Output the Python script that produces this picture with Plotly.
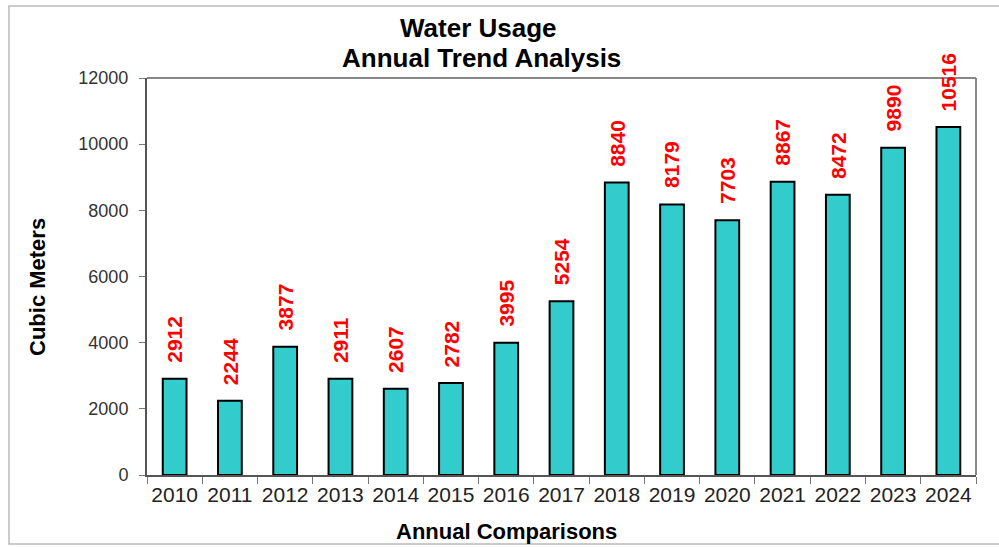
import plotly.graph_objects as go

years = ["2010", "2011", "2012", "2013", "2014", "2015", "2016", "2017",
         "2018", "2019", "2020", "2021", "2022", "2023", "2024"]
usage = [2912, 2244, 3877, 2911, 2607, 2782, 3995, 5254,
         8840, 8179, 7703, 8867, 8472, 9890, 10516]
y_ticks = [0, 2000, 4000, 6000, 8000, 10000, 12000]

W, H = 999, 547
L, R, T, B = 147, 23, 78, 72
pw, ph = W - L - R, H - T - B

def px(p):  # pixel x -> paper
    return (p - L) / pw

def py(p):  # pixel y -> paper
    return (H - B - p) / ph

FONT = "Liberation Sans, Arial, sans-serif"

fig = go.Figure(go.Bar(
    x=years, y=usage, width=0.43,
    marker=dict(color="#33CCCC", line=dict(color="#000000", width=2)),
))

annotations = [
    dict(x=i, y=v, xref="x", yref="y", text=f"<b>{v}</b>", textangle=-90,
         showarrow=False, yanchor="bottom", xanchor="center", yshift=14,
         font=dict(family=FONT, size=21, color="#FF0000"))
    for i, v in enumerate(usage)
]
annotations.append(dict(x=px(37), y=py(287), xref="paper", yref="paper",
                        xanchor="center", yanchor="middle",
                        text="<b>Cubic Meters</b>", textangle=-90, showarrow=False,
                        font=dict(family=FONT, size=22, color="#000000")))
annotations.append(dict(x=px(506), y=py(531), xref="paper", yref="paper",
                        xanchor="center", yanchor="middle",
                        text="<b>Annual Comparisons</b>", showarrow=False,
                        font=dict(family=FONT, size=22, color="#000000")))
annotations.append(dict(x=px(478), y=py(28), xref="paper", yref="paper",
                        xanchor="center", yanchor="middle", showarrow=False,
                        text="<b>Water Usage</b>",
                        font=dict(family=FONT, size=26, color="#000000")))
annotations.append(dict(x=px(481), y=py(58), xref="paper", yref="paper",
                        xanchor="center", yanchor="middle", showarrow=False,
                        text="<b>Annual Trend Analysis</b>",
                        font=dict(family=FONT, size=26, color="#000000")))

fig.update_layout(
    width=W, height=H,
    margin=dict(l=L, r=R, t=T, b=B),
    paper_bgcolor="white", plot_bgcolor="white",
    showlegend=False,
    xaxis=dict(type="category", categoryorder="array", categoryarray=years,
               range=[-0.5, len(years) - 0.5], autorange=False,
               showgrid=False, showline=True, linecolor="#555555",
               linewidth=2, mirror=False, ticks="outside", tickson="boundaries",
               ticklen=7, tickcolor="#777777", tickwidth=1, tickangle=0,
               tickfont=dict(family=FONT, size=21, color="#222222")),
    yaxis=dict(range=[0, 12000], autorange=False, tickvals=y_ticks,
               tickformat="d", showgrid=False, zeroline=False,
               showline=True, linecolor="#555555", linewidth=2,
               ticks="outside", ticklen=6, tickcolor="#777777", tickwidth=1,
               ticklabelstandoff=7,
               tickfont=dict(family=FONT, size=18, color="#333333")),
    annotations=annotations,
    shapes=[
        dict(type="line", xref="paper", yref="paper", x0=0, x1=1, y0=1, y1=1,
             line=dict(color="#888888", width=2)),
        dict(type="line", xref="paper", yref="paper", x0=1, x1=1, y0=0, y1=1,
             line=dict(color="#888888", width=2)),
        dict(type="rect", xref="paper", yref="paper", x0=px(9), x1=px(1010),
             y0=py(544), y1=py(6), line=dict(color="#BBBBBB", width=1.5)),
    ],
)

fig.write_html("out.html")
